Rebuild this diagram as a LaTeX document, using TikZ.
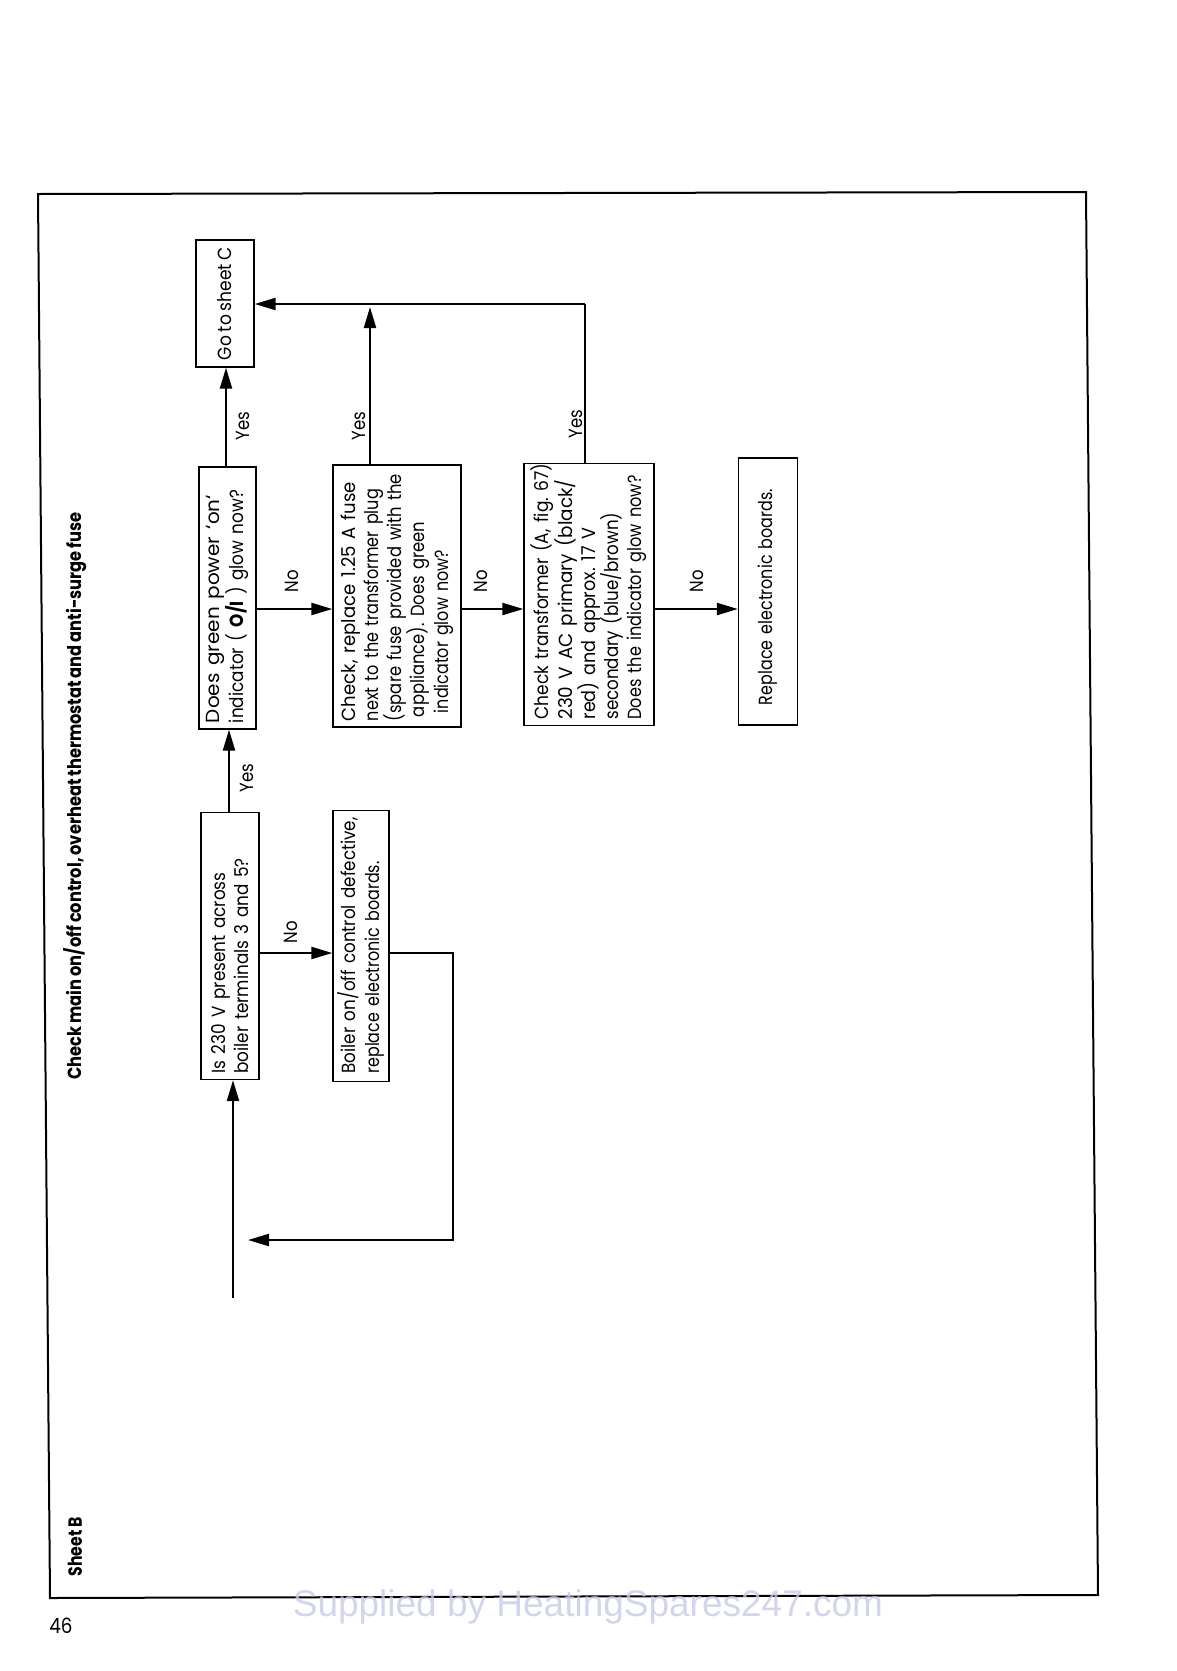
\documentclass[tikz,border=0pt]{standalone}
\usepackage{fontspec}
\usepackage{graphicx}
\setmainfont[FakeStretch=0.87,WordSpace=0.8]{Poppins}
\newfontfamily\wmfont{Liberation Sans}
\usetikzlibrary{arrows.meta,calc}
\definecolor{wmcol}{RGB}{200,202,230}
\newcommand\fitline[2]{\resizebox{#1pt}{\height}{#2}}
\begin{document}
\frenchspacing
\begin{tikzpicture}[x=1pt,y=-1pt,
  box/.style={draw, line width=1.3pt, rotate=90, inner xsep=6pt, inner ysep=0pt, align=left,
    font=\fontsize{19}{23.3}\selectfont\frenchspacing},
  lbl/.style={rotate=90, inner sep=0pt, font=\fontsize{19}{21}\selectfont},
  arr/.style={line width=2.2pt, -{Triangle[length=21pt,width=12pt]}},
  ln/.style={line width=2.2pt}]
\useasboundingbox (0,0) rectangle (1177,1671);
% frame
\draw[line width=2pt] (38,194) -- (1086,192) -- (1098,1595) -- (50,1598) -- cycle;
% title
\node[rotate=90, inner sep=0pt] (title) at (75,796)
  {\fontsize{19}{22}\selectfont\resizebox{567pt}{\height}{\bfseries Check main on/off control, overheat thermostat and anti-surge fuse}};
\node[rotate=90, inner sep=0pt] (sheet) at (75,1547)
  {\fontsize{19}{22}\selectfont\resizebox{59pt}{\height}{\bfseries Sheet B}};
\node[inner sep=0pt] (page) at (61,1626) {\fontsize{21}{24}\selectfont 46};
% boxes
\node[box, minimum width=127pt, minimum height=58pt, align=center] (goC) at (225,303.5)
  {\fitline{113}{Go to sheet C}};
\node[box, minimum width=262pt, minimum height=57pt, text width=250pt] (green) at (227.5,598)
  {\fitline{228}{Does green power \symbol{96}on\symbol{96}}\\\fitline{233}{indicator ( \textbf{O/I} ) glow now?}};
\node[box, minimum width=262pt, minimum height=128pt, text width=250pt] (fuse) at (397,596)
  {\fitline{239}{Check, replace 1.25 A fuse}\\\fitline{232}{next to the transformer plug}\\\fitline{247}{(spare fuse provided with the}\\\hspace*{4pt}\fitline{195}{appliance). Does green}\\\hspace*{8pt}\fitline{163}{indicator glow now?}};
\node[box, minimum width=262pt, minimum height=130pt, text width=250pt, inner xsep=4pt] (trans) at (589,594.5)
  {\fitline{256}{Check transformer (A, fig. 67)}\\\fitline{240}{230 V AC primary (black/}\\\fitline{192}{red) and approx. 17 V}\\\fitline{207}{secondary (blue/brown)}\\\fitline{244}{Does the indicator glow now?}};
\node[box, minimum width=267pt, minimum height=59pt, text width=255pt] (repl) at (768,591.5)
  {\hspace*{14pt}\fitline{216}{Replace electronic boards.}};
\node[box, minimum width=267pt, minimum height=58pt, text width=255pt] (is230) at (230,946)
  {\fitline{201}{Is 230 V present across}\\\fitline{215}{boiler terminals 3 and 5?}};
\node[box, minimum width=267pt, minimum height=56pt, text width=255pt, inner xsep=8pt] (boiler) at (361,946)
  {\fitline{256}{Boiler on/off control defective,}\\\fitline{212}{replace electronic boards.}};
% helper coordinates
\coordinate (rowNo) at (0,609);
\coordinate (rowB) at (0,953);
\coordinate (topRow) at (0,304);
\coordinate (colA) at (229,0);
\coordinate (colB) at (226,0);
\coordinate (colF) at (370,0);
\coordinate (colT) at (585,0);
\coordinate (loopCorner) at (453,1240);
\coordinate (loopEnd) at (248,1240);
\coordinate (start) at (233,1298);
% connectors
\draw[arr] (colA |- is230.east) -- (colA |- green.west);
\draw[arr] (colB |- green.east) -- (colB |- goC.west);
\draw[arr] (green.south |- rowNo) -- (fuse.north |- rowNo);
\draw[arr] (fuse.south |- rowNo) -- (trans.north |- rowNo);
\draw[arr] (trans.south |- rowNo) -- (repl.north |- rowNo);
\draw[arr] (is230.south |- rowB) -- (boiler.north |- rowB);
\draw[arr] (colF |- fuse.east) -- ($(colF |- topRow)+(0,3)$);
\draw[ln] (colT |- trans.east) -- (colT |- topRow);
\draw[arr] (colT |- topRow) -- (goC.south |- topRow);
\draw[arr] (boiler.south |- rowB) -| (loopCorner) -- (loopEnd);
\draw[arr] (start) -- (start |- is230.west);
% labels
\node[lbl] (y1) at (247,778) {Yes};
\node[lbl] (y2) at (243,426) {Yes};
\node[lbl] (y3) at (359,426) {Yes};
\node[lbl] (y4) at (576,424) {Yes};
\node[lbl] (n1) at (292,581) {No};
\node[lbl] (n2) at (481,581) {No};
\node[lbl] (n3) at (697,581) {No};
\node[lbl] (n4) at (291,932) {No};
% watermark
\node[text=wmcol, opacity=0.8, inner sep=0pt] (wm) at (588,1607)
  {\wmfont\fontsize{37}{40}\selectfont Supplied by HeatingSpares247.com};
\end{tikzpicture}
\end{document}
